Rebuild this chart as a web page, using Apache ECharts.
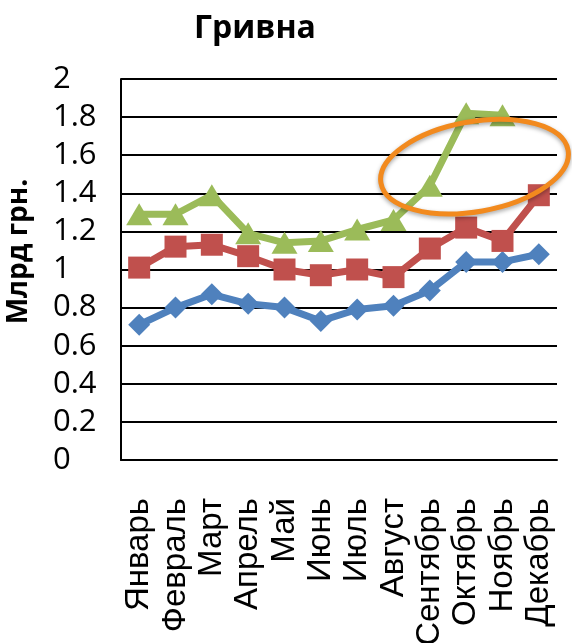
<!DOCTYPE html>
<html><head><meta charset="utf-8">
<script src="https://cdn.jsdelivr.net/npm/echarts@6/dist/echarts.min.js"></script>
<style>html,body{margin:0;padding:0;background:#fff}#c{width:572px;height:643px}</style>
</head><body><div id="c"></div>
<script>
const months = ['Январь','Февраль','Март','Апрель','Май','Июнь','Июль','Август','Сентябрь','Октябрь','Ноябрь','Декабрь'];
const blueValues = [0.71, 0.80, 0.87, 0.82, 0.80, 0.73, 0.79, 0.81, 0.89, 1.04, 1.04, 1.08];
const redValues = [1.01, 1.12, 1.13, 1.07, 1.00, 0.97, 1.00, 0.96, 1.11, 1.22, 1.15, 1.39];
const greenValues = [1.29, 1.29, 1.39, 1.19, 1.14, 1.15, 1.21, 1.26, 1.44, 1.82, 1.81, null];
const yTicks = {min: 0, max: 2, interval: 0.2};
const titleText = 'Гривна';
const yName = 'Млрд грн.';
const highlight = {x: 9.23, y: 1.54};

const chart = echarts.init(document.getElementById('c'));
const line = (data, color, symbol, size) => ({
  type: 'line', data, symbol, symbolSize: size, connectNulls: false,
  lineStyle: {color, width: 7}, itemStyle: {color}, animation: false
});
chart.setOption({
  animation: false,
  title: {text: titleText, left: 189, top: 8, textStyle: {fontFamily: 'Open Sans', fontWeight: 'bold', fontSize: 32, color: '#000'}},
  grid: {left: 121, right: 15, top: 79, bottom: 183, outerBoundsMode: 'none', containLabel: false},
  xAxis: {
    type: 'category', data: months, boundaryGap: true,
    axisLine: {lineStyle: {color: '#000', width: 2}}, axisTick: {show: false},
    axisLabel: {rotate: 90, margin: 38, interval: 0, color: '#000', fontFamily: 'Liberation Sans', fontSize: 33}
  },
  yAxis: {
    type: 'value', min: yTicks.min, max: yTicks.max, interval: yTicks.interval,
    name: yName, nameLocation: 'middle', nameGap: 88, nameRotate: 90,
    nameTextStyle: {fontFamily: 'Open Sans', fontWeight: 'bold', fontSize: 28, color: '#000', padding: [0, 0, 0, 36]},
    axisLine: {show: true, lineStyle: {color: '#000', width: 2}}, axisTick: {show: false},
    axisLabel: {align: 'left', margin: 68, color: '#000', fontFamily: 'Open Sans', fontSize: 31,
      formatter: v => String(Math.round(v * 10) / 10)},
    splitLine: {lineStyle: {color: '#000', width: 2}}
  },
  series: [
    line(blueValues, '#4F81BD', 'diamond', 22),
    line(redValues, '#C0504D', 'rect', 22),
    line(greenValues, '#9BBB59', 'triangle', [26, 22])
  ]
});
const i0 = Math.floor(highlight.x);
const p0 = chart.convertToPixel({xAxisIndex: 0, yAxisIndex: 0}, [i0, highlight.y]);
const p1 = chart.convertToPixel({xAxisIndex: 0, yAxisIndex: 0}, [i0 + 1, highlight.y]);
const cx = p0[0] + (p1[0] - p0[0]) * (highlight.x - i0);
const cy = p0[1];
chart.setOption({
  graphic: [{
    type: 'ellipse', shape: {cx, cy, rx: 95, ry: 45},
    originX: cx, originY: cy, rotation: 10 * Math.PI / 180,
    style: {fill: 'none', stroke: '#F28A1E', lineWidth: 5, shadowBlur: 4, shadowColor: 'rgba(0,0,0,0.35)', shadowOffsetY: 2}, z: 100
  }]
});
</script></body></html>
